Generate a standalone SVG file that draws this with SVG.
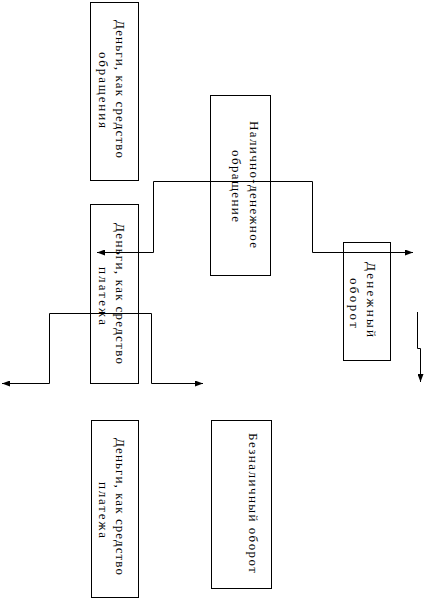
<svg xmlns="http://www.w3.org/2000/svg" width="425" height="614" viewBox="0 0 425 614">
<style>
.box{fill:#fff;stroke:#000;stroke-width:1}
.t{font-family:"Liberation Serif","Times New Roman",serif;font-size:13px;fill:#000}
.c{fill:none;stroke:#000;stroke-width:1}
</style>
<defs>
<marker id="ah" viewBox="0 0 8 6" refX="8" refY="3" markerWidth="8" markerHeight="6" markerUnits="userSpaceOnUse" orient="auto-start-reverse">
<path d="M0,0 L8,3 L0,6 z" fill="#000"/>
</marker>
</defs>
<rect width="425" height="614" fill="#fff"/>
<g id="n1">
<rect class="box" x="90.5" y="2.5" width="48" height="178"/>
<text class="t" transform="translate(116,20) rotate(90)" textLength="138" lengthAdjust="spacing">Деньги, как средство</text>
<text class="t" transform="translate(99,52) rotate(90)" textLength="76" lengthAdjust="spacing">обращения</text>
</g>
<g id="n2">
<rect class="box" x="210.5" y="95.5" width="60" height="180"/>
<text class="t" transform="translate(250,121) rotate(90)" textLength="127" lengthAdjust="spacing">Налично-денежное</text>
<text class="t" transform="translate(232,150) rotate(90)" textLength="72" lengthAdjust="spacing">обращение</text>
</g>
<g id="n3">
<rect class="box" x="90.5" y="204.5" width="48" height="179"/>
<text class="t" transform="translate(116,223) rotate(90)" textLength="141" lengthAdjust="spacing">Деньги, как средство</text>
<text class="t" transform="translate(99,267) rotate(90)" textLength="58" lengthAdjust="spacing">платежа</text>
</g>
<g id="n4">
<rect class="box" x="343.5" y="242.5" width="47" height="118"/>
<text class="t" transform="translate(367,262) rotate(90)" textLength="75" lengthAdjust="spacing">Денежный</text>
<text class="t" transform="translate(350,278) rotate(90)" textLength="50" lengthAdjust="spacing">оборот</text>
</g>
<g id="n5">
<rect class="box" x="91.5" y="420.5" width="47" height="177"/>
<text class="t" transform="translate(116,438) rotate(90)" textLength="137" lengthAdjust="spacing">Деньги, как средство</text>
<text class="t" transform="translate(99,482) rotate(90)" textLength="56" lengthAdjust="spacing">платежа</text>
</g>
<g id="n6">
<rect class="box" x="211.5" y="420.5" width="60" height="168"/>
<text class="t" transform="translate(249,433) rotate(90)" textLength="140" lengthAdjust="spacing">Безналичный оборот</text>
</g>
<g id="connectors">
<polyline class="c" points="97,252.5 153.5,252.5 153.5,181.5 312.5,181.5 312.5,252.5 413,252.5" marker-start="url(#ah)" marker-end="url(#ah)"/>
<polyline class="c" points="2,383.5 49.5,383.5 49.5,313.5 151.5,313.5 151.5,383.5 203,383.5" marker-start="url(#ah)" marker-end="url(#ah)"/>
<polyline class="c" points="417.5,312 417.5,348.5 420.5,348.5 420.5,382" marker-end="url(#ah)"/>
</g>
</svg>
